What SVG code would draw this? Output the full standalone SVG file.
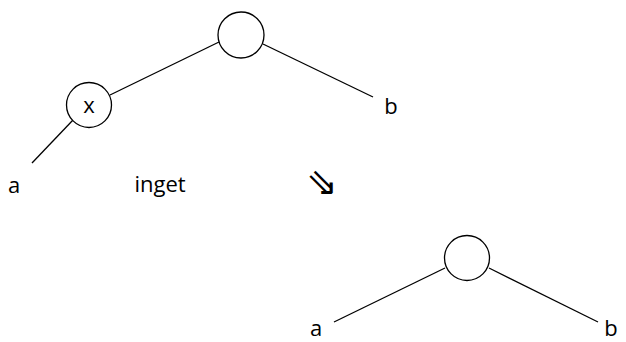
<svg xmlns="http://www.w3.org/2000/svg" width="626" height="342" viewBox="0 0 626 342">
<style>
.n{fill:#fff;stroke:#000;stroke-width:1.3}
.e{stroke:#000;stroke-width:1.3;fill:none}
.t{font-family:"Open Sans","Liberation Sans",sans-serif;font-size:22px;fill:#000;text-anchor:middle}
.ar{font-family:"DejaVu Sans",sans-serif;font-weight:200;font-size:38px;fill:#000;text-anchor:middle}
</style>
<rect width="626" height="342" fill="#fff"/>
<g id="connectors">
<line class="e" x1="219" y1="42" x2="110" y2="95"/>
<line class="e" x1="263" y1="44" x2="373" y2="97"/>
<line class="e" x1="73" y1="120" x2="32" y2="163"/>
<line class="e" x1="445" y1="268" x2="334" y2="322"/>
<line class="e" x1="489" y1="268" x2="598" y2="322"/>
</g>
<g id="root1"><circle class="n" cx="241" cy="35" r="23"/></g>
<g id="x"><circle class="n" cx="89" cy="105" r="22.5"/><text class="t" x="89" y="113">x</text></g>
<g id="b1"><text class="t" x="391" y="114">b</text></g>
<g id="a1"><text class="t" x="14" y="193">a</text></g>
<g id="inget"><text class="t" x="160" y="192">inget</text></g>
<g id="arrow"><text class="ar" x="322" y="195">⇘</text></g>
<g id="root2"><circle class="n" cx="467" cy="258" r="22.5"/></g>
<g id="a2"><text class="t" x="316" y="336">a</text></g>
<g id="b2"><text class="t" x="611" y="336">b</text></g>
</svg>
